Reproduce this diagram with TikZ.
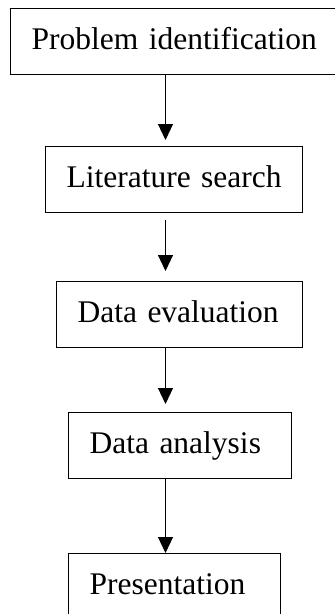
\documentclass[tikz,border=0pt]{standalone}
\usepackage{fontspec}
\setmainfont{Liberation Serif}
\usetikzlibrary{arrows.meta}
\begin{document}
\begin{tikzpicture}[x=1pt,y=-1pt,
  stagebox/.style={draw, line width=1.1pt, rectangle, anchor=north west,
    inner xsep=21pt, inner ysep=0pt, text height=40.5pt, text depth=25pt,
    align=left, font=\fontsize{31.5}{36}\selectfont},
  flow/.style={draw, line width=1.1pt, -{Triangle[length=16pt,width=15pt]}}]
  \useasboundingbox (0,0) rectangle (335,614);
  \begin{scope}
    \clip (0,0) rectangle (335,614);
    \node[stagebox, text width=284pt] (s1) at (10,8) {\mbox{Problem identification}};
    \node[stagebox, text width=215pt] (s2) at (45,146) {\mbox{Literature search}};
    \node[stagebox, text width=204pt] (s3) at (56,281) {\mbox{Data evaluation}};
    \node[stagebox, text width=181pt] (s4) at (68,412) {\mbox{Data analysis}};
    \node[stagebox, text width=170pt] (s5) at (68,553) {\mbox{Presentation}};
  \end{scope}
  \coordinate (spine) at (165.5,0);
  \draw[flow, shorten >=6pt] (s1.south -| spine) -- (s2.north -| spine);
  \draw[flow, shorten <=7.5pt, shorten >=10pt] (s2.south -| spine) -- (s3.north -| spine);
  \draw[flow, shorten >=8pt] (s3.south -| spine) -- (s4.north -| spine);
  \draw[flow] (s4.south -| spine) -- (s5.north -| spine);
\end{tikzpicture}
\end{document}
